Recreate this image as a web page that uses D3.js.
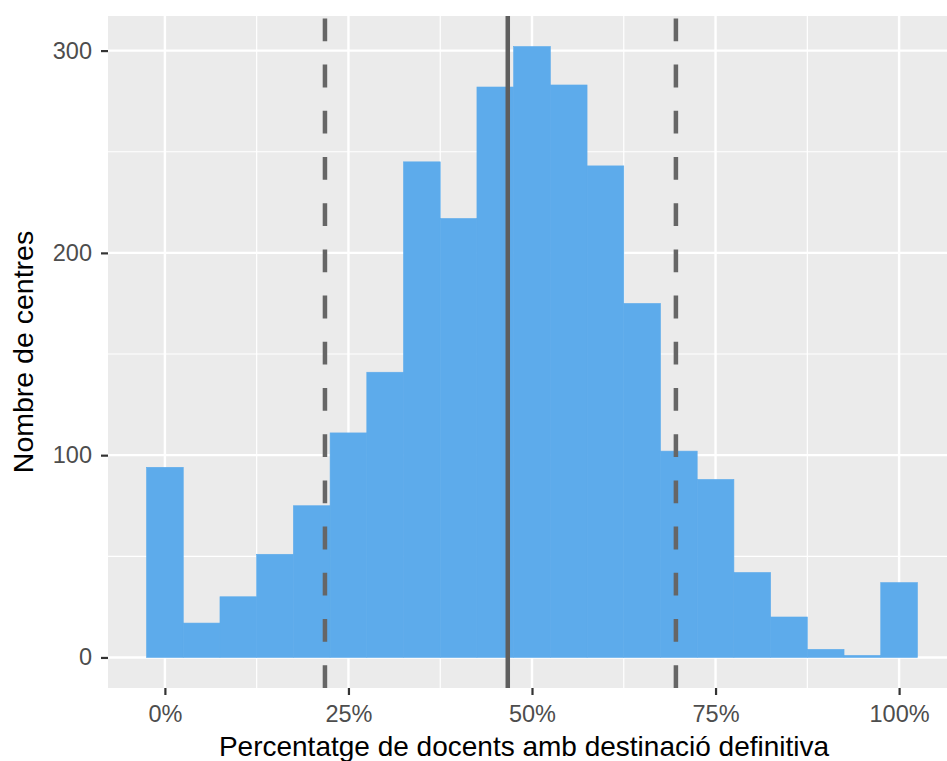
<!DOCTYPE html>
<html>
<head>
<meta charset="utf-8">
<script src="https://cdn.jsdelivr.net/npm/d3@7"></script>
<style>
  html, body { margin: 0; padding: 0; background: #fff; }
  svg { display: block; }
</style>
</head>
<body>
<svg id="chart" width="947" height="761"></svg>
<script>
// ---- data ----
const binCenters = [0, 5, 10, 15, 20, 25, 30, 35, 40, 45, 50, 55, 60, 65, 70, 75, 80, 85, 90, 95, 100];
const counts     = [94, 17, 30, 51, 75, 111, 141, 245, 217, 282, 302, 283, 243, 175, 102, 88, 42, 20, 4, 1, 37];
const binWidth = 5;
const xTicks = [0, 25, 50, 75, 100];
const xTickLabels = ["0%", "25%", "50%", "75%", "100%"];
const xMinor = [12.5, 37.5, 62.5, 87.5];
const yTicks = [0, 100, 200, 300];
const yMinor = [50, 150, 250];
const medianLine = [46.7];
const dashedLines = [21.8, 69.6];
const xTitle = "Percentatge de docents amb destinació definitiva";
const yTitle = "Nombre de centres";

// ---- layout ----
const panel = { left: 108, right: 956, top: 16, bottom: 688 };
const svg = d3.select("#chart");
const font = "'Liberation Sans', Arial, Helvetica, sans-serif";

const x = d3.scaleLinear().domain([-7.75, 107.75]).range([panel.left, panel.right]);
const y = d3.scaleLinear().domain([-15.1, 317.1]).range([panel.bottom, panel.top]);

// panel background
svg.append("rect")
  .attr("x", panel.left).attr("y", panel.top)
  .attr("width", panel.right - panel.left).attr("height", panel.bottom - panel.top)
  .attr("fill", "#EBEBEB");

const grid = svg.append("g");
// minor grid
grid.selectAll(".ymin").data(yMinor).join("line")
  .attr("x1", panel.left).attr("x2", panel.right)
  .attr("y1", d => y(d)).attr("y2", d => y(d))
  .attr("stroke", "#fff").attr("stroke-width", 1.2);
grid.selectAll(".xmin").data(xMinor).join("line")
  .attr("y1", panel.top).attr("y2", panel.bottom)
  .attr("x1", d => x(d)).attr("x2", d => x(d))
  .attr("stroke", "#fff").attr("stroke-width", 1.2);
// major grid
grid.selectAll(".ymaj").data(yTicks).join("line")
  .attr("x1", panel.left).attr("x2", panel.right)
  .attr("y1", d => y(d)).attr("y2", d => y(d))
  .attr("stroke", "#fff").attr("stroke-width", 2.4);
grid.selectAll(".xmaj").data(xTicks).join("line")
  .attr("y1", panel.top).attr("y2", panel.bottom)
  .attr("x1", d => x(d)).attr("x2", d => x(d))
  .attr("stroke", "#fff").attr("stroke-width", 2.4);

// bars
svg.append("g").selectAll("rect").data(binCenters.map((c, i) => ({ c, n: counts[i] }))).join("rect")
  .attr("x", d => x(d.c - binWidth / 2))
  .attr("width", d => x(d.c + binWidth / 2) - x(d.c - binWidth / 2))
  .attr("y", d => y(d.n))
  .attr("height", d => y(0) - y(d.n))
  .attr("fill", "#5DABEB")
  .attr("stroke", "#5DABEB").attr("stroke-width", 0.6);

// vertical reference lines
svg.append("g").selectAll("line").data(dashedLines).join("line")
  .attr("x1", d => x(d)).attr("x2", d => x(d))
  .attr("y1", panel.bottom).attr("y2", panel.top)
  .attr("stroke", "#666666").attr("stroke-width", 4.5)
  .attr("stroke-dasharray", "22.8,23.4");
svg.append("g").selectAll("line").data(medianLine).join("line")
  .attr("x1", d => x(d)).attr("x2", d => x(d))
  .attr("y1", panel.bottom).attr("y2", panel.top)
  .attr("stroke", "#5E5E5E").attr("stroke-width", 4.5);

// axes
const xAxis = d3.axisBottom(x).tickValues(xTicks).tickFormat((d, i) => xTickLabels[i])
  .tickSizeInner(7).tickSizeOuter(0).tickPadding(10);
const gx = svg.append("g").attr("transform", `translate(0,${panel.bottom})`).call(xAxis);
gx.select(".domain").remove();
gx.selectAll(".tick line").attr("stroke", "#333333").attr("stroke-width", 2.2);
gx.selectAll(".tick text").attr("fill", "#4D4D4D").attr("font-family", font).attr("font-size", 23.5)
  .attr("dy", "0.71em");

const yAxis = d3.axisLeft(y).tickValues(yTicks).tickSizeInner(7).tickSizeOuter(0).tickPadding(9);
const gy = svg.append("g").attr("transform", `translate(${panel.left},0)`).call(yAxis);
gy.select(".domain").remove();
gy.selectAll(".tick line").attr("stroke", "#333333").attr("stroke-width", 2.2);
gy.selectAll(".tick text").attr("fill", "#4D4D4D").attr("font-family", font).attr("font-size", 23.5);

// titles
svg.append("text")
  .attr("x", 524).attr("y", 756)
  .attr("text-anchor", "middle")
  .attr("font-family", font).attr("font-size", 28).attr("fill", "#000")
  .text(xTitle);
svg.append("text")
  .attr("transform", "translate(33,352) rotate(-90)")
  .attr("text-anchor", "middle")
  .attr("font-family", font).attr("font-size", 28.5).attr("fill", "#000")
  .text(yTitle);
</script>
</body>
</html>
